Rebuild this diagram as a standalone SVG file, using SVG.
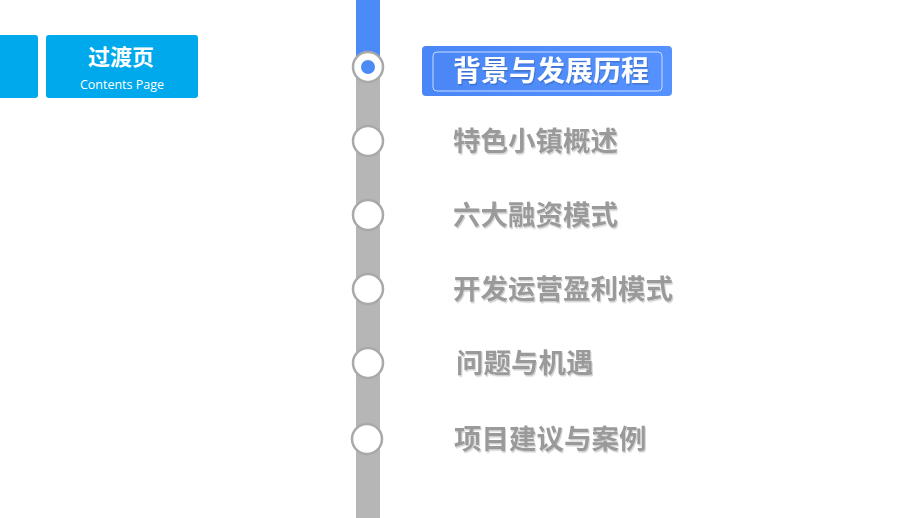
<svg xmlns="http://www.w3.org/2000/svg" width="920" height="518" viewBox="0 0 920 518">
<defs>
<linearGradient id="hl" x1="0" y1="0" x2="1" y2="0">
<stop offset="0" stop-color="#4a86f5"/>
<stop offset="1" stop-color="#5592ff"/>
</linearGradient>
<filter id="sh" x="-10%" y="-20%" width="130%" height="150%">
<feDropShadow dx="1" dy="1.5" stdDeviation="0.7" flood-color="#000" flood-opacity="0.18"/>
</filter>
</defs>
<style>
.ring{fill:#fff;stroke:#a9a9a9;stroke-width:2.5}
.item{font-family:"Noto Sans CJK SC","Noto Sans",sans-serif;font-weight:700;font-size:27.5px;fill:#9a9a9a}
.title{font-family:"Noto Sans CJK SC","Noto Sans",sans-serif;font-weight:700;fill:#fff}
.tab{fill:#00a9ec}
</style>
<rect width="920" height="518" fill="#fff"/>
<g id="tab-left"><rect class="tab" x="-6" y="35" width="44" height="63" rx="3"/></g>
<g id="tab-title">
<rect class="tab" x="46" y="35" width="152" height="63" rx="3"/>
<text class="title" x="121" y="65" font-size="22" text-anchor="middle">过渡页</text>
<text x="122" y="89" font-family="'Open Sans','Liberation Sans',sans-serif" font-size="12.5" fill="#fff" text-anchor="middle">Contents Page</text>
</g>
<g id="connectors">
<rect x="356" y="0" width="24" height="67" fill="#4b8bf7"/>
<rect x="356" y="67" width="24" height="451" fill="#b6b6b6"/>
</g>
<g id="node1">
<rect x="422" y="46" width="250" height="50" rx="4" fill="url(#hl)"/>
<rect x="433" y="52" width="229" height="39" rx="4" fill="none" stroke="#c9dbff" stroke-width="1"/>
<circle class="ring" cx="368" cy="67" r="15"/>
<circle cx="368" cy="67" r="7" fill="#4b8bf7"/>
<text class="title" x="453" y="81" font-size="28" filter="url(#sh)">背景与发展历程</text>
</g>
<g id="node2"><circle class="ring" cx="368" cy="141" r="15"/><text class="item" x="453" y="151" filter="url(#sh)">特色小镇概述</text></g>
<g id="node3"><circle class="ring" cx="368" cy="215" r="15"/><text class="item" x="453" y="225" filter="url(#sh)">六大融资模式</text></g>
<g id="node4"><circle class="ring" cx="368" cy="289" r="15"/><text class="item" x="453" y="299" filter="url(#sh)">开发运营盈利模式</text></g>
<g id="node5"><circle class="ring" cx="368" cy="363" r="15"/><text class="item" x="456" y="373" filter="url(#sh)">问题与机遇</text></g>
<g id="node6"><circle class="ring" cx="367" cy="439" r="15"/><text class="item" x="454" y="449" filter="url(#sh)">项目建议与案例</text></g>
</svg>
